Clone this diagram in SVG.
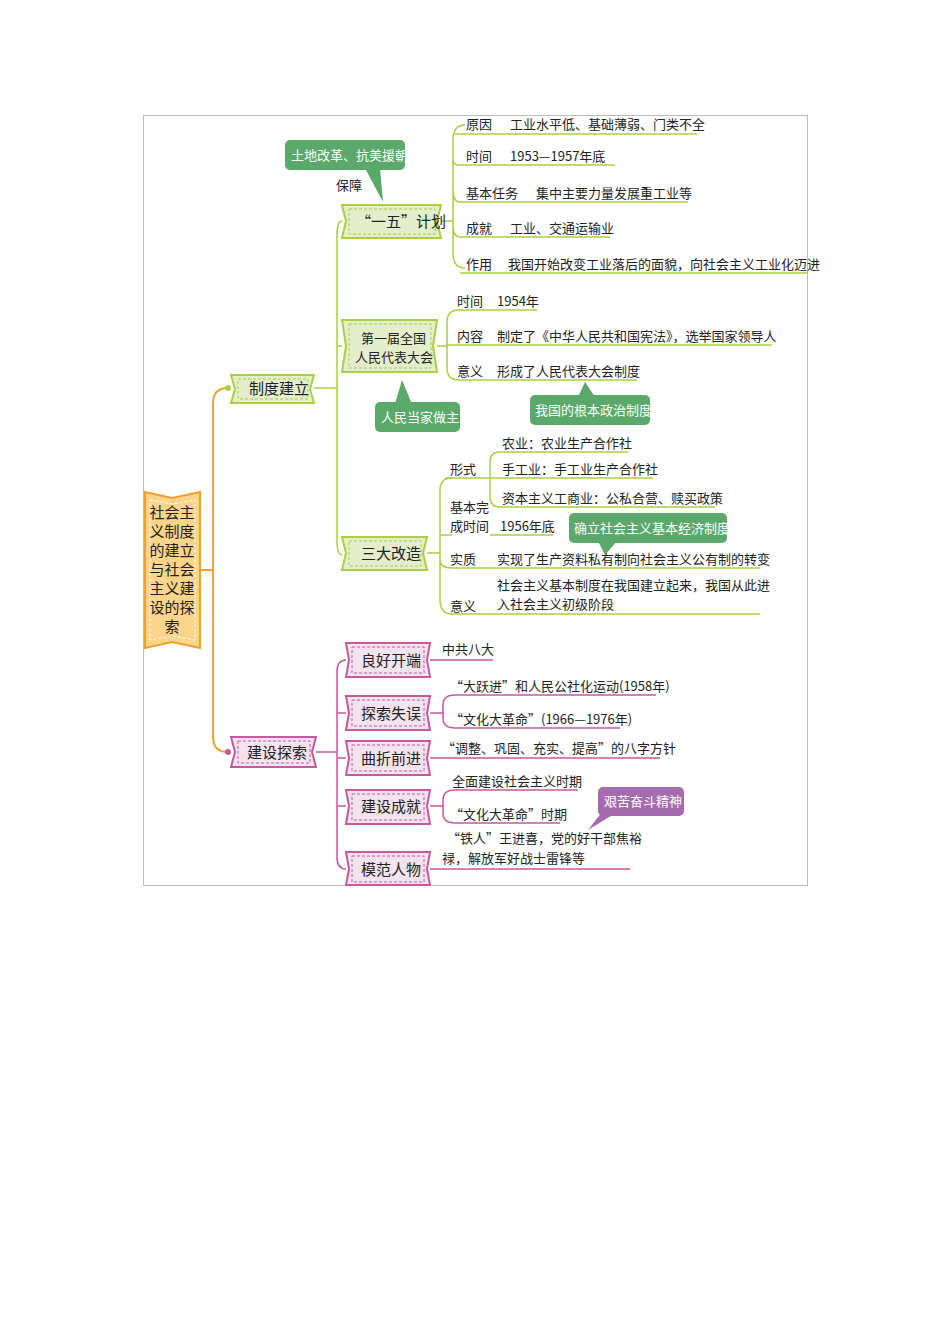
<svg xmlns="http://www.w3.org/2000/svg" width="950" height="1344" viewBox="0 0 950 1344">
<style>
text{font-family:"Noto Sans CJK SC","Liberation Sans",sans-serif;fill:#222}
.l{font-size:13px}
.n{font-size:15px}
.g{fill:none;stroke:#a8d040;stroke-width:1.5}
.p{fill:none;stroke:#c8589e;stroke-width:1.5}
.o{fill:none;stroke:#f0a030;stroke-width:2}
.gn{fill:#e4eecb;stroke:#a8d040;stroke-width:2}
.pn{fill:#f3e3ef;stroke:#c8589e;stroke-width:2}
.in{fill:none;stroke-dasharray:3 2;stroke-width:1}
.cg{fill:#5aa86a}
.cp{fill:#a66ab0}
.w{fill:#fff;font-size:13px}
</style>
<rect x="143.5" y="115.5" width="664" height="770" fill="#fff" stroke="#bbb"/>
<g id="connectors">
<path class="o" d="M200 570H213M228 388Q213 388 213 403V737Q213 752 228 752"/>
<path class="g" d="M314 388H337M342 221Q337 221 337 235V540Q337 555 342 555M337 346H342"/>
<path class="g" d="M441 221H453M465 125Q453 125 453 140V253Q453 268 465 268M453 160Q453 165 460 165M453 190Q453 202 460 202M453 225Q453 237 460 237"/>
<path class="g" d="M455 134H697M460 165H615M460 202H688M460 237H610M460 273H808"/>
<path class="g" d="M437 346H447M459 310Q447 310 447 322V368Q447 380 459 380M447 345H459"/>
<path class="g" d="M459 310H537M459 345H772M459 380H637"/>
<path class="g" d="M427 553H440M452 478Q440 478 440 490V600Q440 614 452 614M440 535Q440 535 452 535M440 560Q440 568 452 568"/>
<path class="g" d="M445 478H490M500 452Q490 452 490 462V497Q490 507 500 507M490 478H500"/>
<path class="g" d="M500 452H628M500 478H653M500 507H715M490 535H553M452 568H760M452 614H760"/>
<path class="p" d="M316 752H337M346 660Q337 660 337 672V857Q337 869 346 869M337 713H346M337 758H346M337 806H346"/>
<path class="p" d="M430 660H493M430 713H443M455 695Q443 695 443 705V718Q443 728 455 728M455 695H656M455 728H620M430 758H660M430 806H443M455 790Q443 790 443 800V813Q443 823 455 823M455 790H578M455 823H560M430 869H630"/>
</g>
<g id="root">
<path d="M145 492L172 498L200 492V648L172 642L145 648Z" fill="#fcd48a" stroke="#f0a030" stroke-width="2"/>
<path d="M150 500L172 504L195 500V640L172 636L150 640Z" fill="none" stroke="#fff" stroke-dasharray="3 2"/>
<g class="n" text-anchor="middle" font-size="15"><text x="172" y="518">社会主</text><text x="172" y="537">义制度</text><text x="172" y="556">的建立</text><text x="172" y="575">与社会</text><text x="172" y="594">主义建</text><text x="172" y="613">设的探</text><text x="172" y="632">索</text></g>
<circle cx="228" cy="388" r="3" fill="#a8d040"/><circle cx="228" cy="752" r="3" fill="#c8589e"/>
</g>
<g id="zhidu"><path class="gn" d="M231 375H314L310 389L314 403H231L235 389Z"/><rect class="in" stroke="#a8d040" x="238" y="379" width="70" height="20"/><text class="n" x="249" y="394">制度建立</text></g>
<g id="yiwu"><path class="gn" d="M342 205H441L437 221L441 238H342L346 221Z"/><rect class="in" stroke="#a8d040" x="349" y="209" width="86" height="25"/><text class="n" x="356" y="227">“一五”计划</text></g>
<g id="renda"><path class="gn" d="M342 320H437L433 346L437 372H342L346 346Z"/><rect class="in" stroke="#a8d040" x="349" y="324" width="82" height="44"/><text class="l" font-size="14" x="361" y="343">第一届全国</text><text class="l" font-size="14" x="355" y="362">人民代表大会</text></g>
<g id="sanda"><path class="gn" d="M342 537H427L423 553L427 570H342L346 553Z"/><rect class="in" stroke="#a8d040" x="349" y="541" width="72" height="25"/><text class="n" x="361" y="559">三大改造</text></g>
<g id="jianshe"><path class="pn" d="M231 737H316L312 752L316 767H231L235 752Z"/><rect class="in" stroke="#c8589e" x="238" y="741" width="72" height="22"/><text class="n" x="247" y="758">建设探索</text></g>
<g id="lianghao"><path class="pn" d="M346 643H430L427 660L430 677H346L349 660Z"/><rect class="in" stroke="#c8589e" x="352" y="647" width="72" height="26"/><text class="n" x="361" y="666">良好开端</text></g>
<g id="tansuo"><path class="pn" d="M346 696H430L427 713L430 730H346L349 713Z"/><rect class="in" stroke="#c8589e" x="352" y="700" width="72" height="26"/><text class="n" x="361" y="719">探索失误</text></g>
<g id="quzhe"><path class="pn" d="M346 741H430L427 758L430 775H346L349 758Z"/><rect class="in" stroke="#c8589e" x="352" y="745" width="72" height="26"/><text class="n" x="361" y="764">曲折前进</text></g>
<g id="chengjiu"><path class="pn" d="M346 790H430L427 806L430 824H346L349 806Z"/><rect class="in" stroke="#c8589e" x="352" y="794" width="72" height="26"/><text class="n" x="361" y="812">建设成就</text></g>
<g id="mofan"><path class="pn" d="M346 852H430L427 869L430 885H346L349 869Z"/><rect class="in" stroke="#c8589e" x="352" y="856" width="72" height="26"/><text class="n" x="361" y="875">模范人物</text></g>
<g id="callouts">
<rect class="cg" x="285" y="140" width="120" height="30" rx="5"/><path class="cg" d="M365 168L383 202L380 168Z"/><text class="w" x="291" y="160">土地改革、抗美援朝</text>
<text class="l" x="336" y="190">保障</text>
<rect class="cg" x="375" y="402" width="85" height="30" rx="5"/><path class="cg" d="M395 404L402 380L412 404Z"/><text class="w" x="381" y="422">人民当家做主</text>
<rect class="cg" x="530" y="395" width="120" height="30" rx="5"/><path class="cg" d="M578 397L585 382L595 397Z"/><text class="w" x="535" y="415">我国的根本政治制度</text>
<rect class="cg" x="569" y="513" width="158" height="30" rx="5"/><path class="cg" d="M598 541L605 555L617 541Z"/><text class="w" x="574" y="533">确立社会主义基本经济制度</text>
<rect class="cp" x="598" y="787" width="86" height="29" rx="5"/><path class="cp" d="M602 812L588 830L614 814Z"/><text class="w" x="604" y="806">艰苦奋斗精神</text>
</g>
<g id="leaves" class="l">
<text x="466" y="129">原因</text><text x="510" y="129">工业水平低、基础薄弱、门类不全</text>
<text x="466" y="161">时间</text><text x="510" y="161">1953—1957年底</text>
<text x="466" y="198">基本任务</text><text x="536" y="198">集中主要力量发展重工业等</text>
<text x="466" y="233">成就</text><text x="510" y="233">工业、交通运输业</text>
<text x="466" y="269">作用</text><text x="508" y="269">我国开始改变工业落后的面貌，向社会主义工业化迈进</text>
<text x="457" y="306">时间</text><text x="497" y="306">1954年</text>
<text x="457" y="341">内容</text><text x="497" y="341">制定了《中华人民共和国宪法》，选举国家领导人</text>
<text x="457" y="376">意义</text><text x="497" y="376">形成了人民代表大会制度</text>
<text x="450" y="474">形式</text>
<text x="502" y="448">农业：农业生产合作社</text>
<text x="502" y="474">手工业：手工业生产合作社</text>
<text x="502" y="503">资本主义工商业：公私合营、赎买政策</text>
<text x="450" y="512">基本完</text><text x="450" y="531">成时间</text><text x="500" y="531">1956年底</text>
<text x="450" y="564">实质</text><text x="497" y="564">实现了生产资料私有制向社会主义公有制的转变</text>
<text x="497" y="590">社会主义基本制度在我国建立起来，我国从此进</text>
<text x="497" y="609">入社会主义初级阶段</text><text x="450" y="611">意义</text>
<text x="442" y="654">中共八大</text>
<text x="450" y="691">“大跃进”和人民公社化运动(1958年)</text>
<text x="450" y="724">“文化大革命”(1966—1976年)</text>
<text x="442" y="753">“调整、巩固、充实、提高”的八字方针</text>
<text x="452" y="786">全面建设社会主义时期</text>
<text x="450" y="819">“文化大革命”时期</text>
<text x="447" y="843">“铁人”王进喜，党的好干部焦裕</text>
<text x="442" y="863">禄，解放军好战士雷锋等</text>
</g>
</svg>
